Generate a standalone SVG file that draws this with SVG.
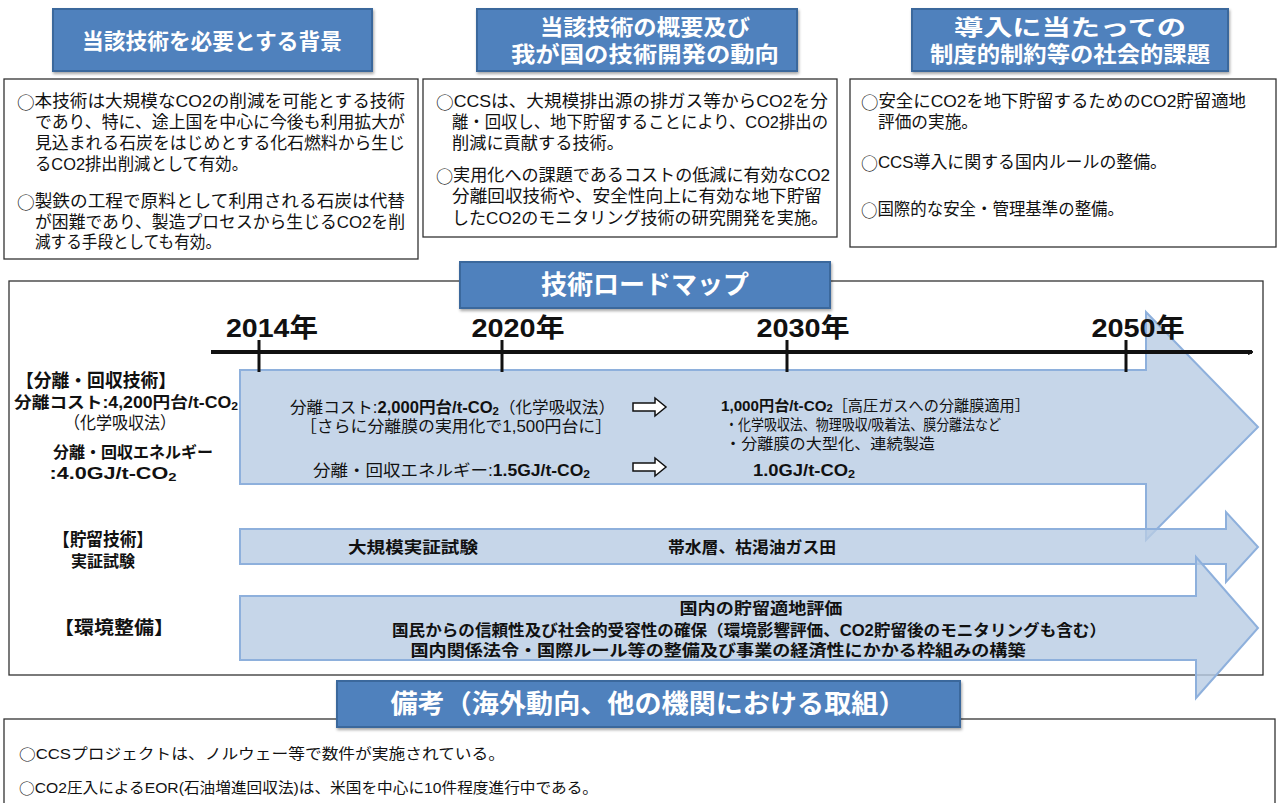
<svg xmlns="http://www.w3.org/2000/svg" width="1278" height="803" viewBox="0 0 1278 803">
<defs>
<style>
text{font-family:"Liberation Sans","Noto Sans CJK JP",sans-serif;fill:#111;dominant-baseline:central}
.c{font-family:"Noto Sans CJK JP",sans-serif}
.hdr{fill:#4f81bd;stroke:#3a679c;stroke-width:2}
.ht{fill:#fff;font-size:22px;font-weight:bold;text-anchor:middle}
.box{fill:#fff;stroke:#333;stroke-width:1.3}
.bt{font-size:17px}
.arr{fill:#b8cce4;fill-opacity:0.8;stroke:#8eb0dc;stroke-width:2}
.yr{font-size:26px;font-weight:bold;text-anchor:middle}
.lb{font-size:16px;font-weight:bold;text-anchor:middle}
.mt{font-size:16px}
.b{font-weight:bold}
.sub{font-size:11px}
.hol{fill:#fff;stroke:#111;stroke-width:1.5}
</style>
<filter id="sh" x="-5%" y="-10%" width="110%" height="130%">
<feDropShadow dx="1" dy="2" stdDeviation="1.5" flood-color="#000" flood-opacity="0.35"/>
</filter>
<marker id="tip" viewBox="0 0 10 10" refX="8" refY="5" markerWidth="5" markerHeight="5" orient="auto" markerUnits="userSpaceOnUse">
<path d="M0,0 L10,5 L0,10" fill="none" stroke="#111" stroke-width="2.5"/>
</marker>
</defs>
<rect width="1278" height="803" fill="#fff"/>

<g id="header-background">
<rect class="hdr" x="53" y="9" width="319" height="62" filter="url(#sh)"/>
<text class="ht" x="212" y="41" textLength="260" lengthAdjust="spacingAndGlyphs">当該技術を必要とする背景</text>
</g>
<g id="box-background">
<rect class="box" x="4" y="79" width="414" height="180"/>
<text class="bt" x="17" y="101" textLength="388" lengthAdjust="spacingAndGlyphs"><tspan class="c">○</tspan>本技術は大規模なCO2の削減を可能とする技術</text>
<text class="bt" x="35" y="122" textLength="370" lengthAdjust="spacingAndGlyphs">であり、特に、途上国を中心に今後も利用拡大が</text>
<text class="bt" x="35" y="143" textLength="370" lengthAdjust="spacingAndGlyphs">見込まれる石炭をはじめとする化石燃料から生じ</text>
<text class="bt" x="35" y="164" textLength="213" lengthAdjust="spacingAndGlyphs">るCO2排出削減として有効。</text>
<text class="bt" x="17" y="201" textLength="388" lengthAdjust="spacingAndGlyphs"><tspan class="c">○</tspan>製鉄の工程で原料として利用される石炭は代替</text>
<text class="bt" x="35" y="222" textLength="370" lengthAdjust="spacingAndGlyphs">が困難であり、製造プロセスから生じるCO2を削</text>
<text class="bt" x="35" y="242" textLength="186" lengthAdjust="spacingAndGlyphs">減する手段としても有効。</text>
</g>

<g id="header-overview">
<rect class="hdr" x="477" y="9" width="320" height="62" filter="url(#sh)"/>
<text class="ht" x="645" y="27" textLength="210" lengthAdjust="spacingAndGlyphs">当該技術の概要及び</text>
<text class="ht" x="645" y="54" textLength="268" lengthAdjust="spacingAndGlyphs">我が国の技術開発の動向</text>
</g>
<g id="box-overview">
<rect class="box" x="423" y="79" width="414" height="158"/>
<text class="bt" x="436" y="101" textLength="392" lengthAdjust="spacingAndGlyphs"><tspan class="c">○</tspan>CCSは、大規模排出源の排ガス等からCO2を分</text>
<text class="bt" x="452" y="122" textLength="376" lengthAdjust="spacingAndGlyphs">離・回収し、地下貯留することにより、CO2排出の</text>
<text class="bt" x="452" y="143" textLength="172" lengthAdjust="spacingAndGlyphs">削減に貢献する技術。</text>
<text class="bt" x="436" y="175" textLength="394" lengthAdjust="spacingAndGlyphs"><tspan class="c">○</tspan>実用化への課題であるコストの低減に有効なCO2</text>
<text class="bt" x="452" y="196" textLength="370" lengthAdjust="spacingAndGlyphs">分離回収技術や、安全性向上に有効な地下貯留</text>
<text class="bt" x="452" y="218" textLength="376" lengthAdjust="spacingAndGlyphs">したCO2のモニタリング技術の研究開発を実施。</text>
</g>

<g id="header-issues">
<rect class="hdr" x="912" y="9" width="316" height="62" filter="url(#sh)"/>
<text class="ht" x="1070" y="27" textLength="232" lengthAdjust="spacingAndGlyphs">導入に当たっての</text>
<text class="ht" x="1070" y="54" textLength="280" lengthAdjust="spacingAndGlyphs">制度的制約等の社会的課題</text>
</g>
<g id="box-issues">
<rect class="box" x="850" y="79" width="426" height="168"/>
<text class="bt" x="861" y="101" textLength="385" lengthAdjust="spacingAndGlyphs"><tspan class="c">○</tspan>安全にCO2を地下貯留するためのCO2貯留適地</text>
<text class="bt" x="878" y="122" textLength="100" lengthAdjust="spacingAndGlyphs">評価の実施。</text>
<text class="bt" x="861" y="162" textLength="306" lengthAdjust="spacingAndGlyphs"><tspan class="c">○</tspan>CCS導入に関する国内ルールの整備。</text>
<text class="bt" x="861" y="209" textLength="263" lengthAdjust="spacingAndGlyphs"><tspan class="c">○</tspan>国際的な安全・管理基準の整備。</text>
</g>

<g id="roadmap-frame">
<rect class="box" x="9" y="281" width="1254" height="394"/>
</g>

<g id="connectors">
<polygon class="arr" points="240,370 1146,370 1146,312 1258,427 1146,540 1146,484 240,484"/>
<polygon class="arr" points="240,529 1226,529 1226,512 1258,547 1226,582 1226,564 240,564"/>
<polygon class="arr" points="240,596 1196,596 1196,557 1258,628 1196,698 1196,660 240,660"/>
</g>

<g id="timeline">
<line x1="211" y1="352" x2="1252" y2="352" stroke="#111" stroke-width="4" marker-end="url(#tip)"/>
<line x1="259" y1="340" x2="259" y2="372" stroke="#111" stroke-width="3"/>
<line x1="502" y1="340" x2="502" y2="372" stroke="#111" stroke-width="3"/>
<line x1="787" y1="340" x2="787" y2="372" stroke="#111" stroke-width="3"/>
<line x1="1126" y1="340" x2="1126" y2="372" stroke="#111" stroke-width="3"/>
<text class="yr" x="272" y="328" textLength="92" lengthAdjust="spacingAndGlyphs">2014年</text>
<text class="yr" x="518" y="328" textLength="93" lengthAdjust="spacingAndGlyphs">2020年</text>
<text class="yr" x="803" y="328" textLength="93" lengthAdjust="spacingAndGlyphs">2030年</text>
<text class="yr" x="1138" y="328" textLength="93" lengthAdjust="spacingAndGlyphs">2050年</text>
</g>

<g id="roadmap-title">
<rect class="hdr" x="460" y="262" width="370" height="46" filter="url(#sh)"/>
<text class="ht" x="645" y="285" style="font-size:26px" textLength="208" lengthAdjust="spacingAndGlyphs">技術ロードマップ</text>
</g>

<g id="row-capture-label">
<text class="lb" x="96" y="381" style="font-size:18px" textLength="160" lengthAdjust="spacingAndGlyphs">【分離・回収技術】</text>
<text class="lb" x="126" y="402" textLength="224" lengthAdjust="spacingAndGlyphs">分離コスト:4,200円台/t-CO<tspan class="sub" dy="4">2</tspan></text>
<text class="mt" x="120" y="423" style="font-size:17px" text-anchor="middle" textLength="112" lengthAdjust="spacingAndGlyphs">（化学吸収法）</text>
<text class="lb" x="133" y="452" textLength="160" lengthAdjust="spacingAndGlyphs">分離・回収エネルギー</text>
<text class="lb" x="113" y="473" textLength="127" lengthAdjust="spacingAndGlyphs">:4.0GJ/t-CO<tspan class="sub" dy="4">2</tspan></text>
</g>

<g id="row-capture-content">
<text class="mt" x="290" y="407" textLength="325" lengthAdjust="spacingAndGlyphs">分離コスト:<tspan class="b">2,000円台/t-CO</tspan><tspan class="sub b" dy="4">2</tspan><tspan dy="-4">（化学吸収法）</tspan></text>
<text class="mt" x="300" y="426" textLength="312" lengthAdjust="spacingAndGlyphs">［さらに分離膜の実用化で1,500円台に］</text>
<text class="mt" x="313" y="470" textLength="277" lengthAdjust="spacingAndGlyphs">分離・回収エネルギー:<tspan class="b">1.5GJ/t-CO</tspan><tspan class="sub b" dy="4">2</tspan></text>
<path class="hol" d="M633,403 H655 V398 L666,407 L655,416 V411 H633 Z"/>
<path class="hol" d="M633,463 H655 V458 L666,467 L655,476 V471 H633 Z"/>
<text class="mt" x="721" y="405" style="font-size:15px" textLength="309" lengthAdjust="spacingAndGlyphs"><tspan class="b">1,000円台/t-CO</tspan><tspan class="sub b" dy="3">2</tspan><tspan dy="-3">［高圧ガスへの分離膜適用］</tspan></text>
<text class="mt" x="725" y="424" style="font-size:15px" textLength="276" lengthAdjust="spacingAndGlyphs">・化学吸収法、物理吸収/吸着法、膜分離法など</text>
<text class="mt" x="725" y="443" style="font-size:15px" textLength="210" lengthAdjust="spacingAndGlyphs">・分離膜の大型化、連続製造</text>
<text class="mt b" x="753" y="470" textLength="102" lengthAdjust="spacingAndGlyphs">1.0GJ/t-CO<tspan class="sub" dy="4">2</tspan></text>
</g>

<g id="row-storage">
<text class="lb" x="103" y="540" style="font-size:18px" textLength="100" lengthAdjust="spacingAndGlyphs">【貯留技術】</text>
<text class="lb" x="103" y="561" textLength="64" lengthAdjust="spacingAndGlyphs">実証試験</text>
<text class="mt b" x="348" y="547" textLength="130" lengthAdjust="spacingAndGlyphs">大規模実証試験</text>
<text class="mt b" x="668" y="547" textLength="168" lengthAdjust="spacingAndGlyphs">帯水層、枯渇油ガス田</text>
</g>

<g id="row-environment">
<text class="lb" x="114" y="628" style="font-size:18px" textLength="120" lengthAdjust="spacingAndGlyphs">【環境整備】</text>
<text class="mt b" x="761" y="608" text-anchor="middle" textLength="163" lengthAdjust="spacingAndGlyphs">国内の貯留適地評価</text>
<text class="mt b" x="749" y="630" text-anchor="middle" textLength="714" lengthAdjust="spacingAndGlyphs">国民からの信頼性及び社会的受容性の確保（環境影響評価、CO2貯留後のモニタリングも含む）</text>
<text class="mt b" x="718" y="650" text-anchor="middle" textLength="615" lengthAdjust="spacingAndGlyphs">国内関係法令・国際ルール等の整備及び事業の経済性にかかる枠組みの構築</text>
</g>

<g id="box-remarks">
<rect class="box" x="4" y="719" width="1271" height="90"/>
<text class="mt" x="19" y="753" style="font-size:15px" textLength="486" lengthAdjust="spacingAndGlyphs"><tspan class="c">○</tspan>CCSプロジェクトは、ノルウェー等で数件が実施されている。</text>
<text class="mt" x="19" y="787" style="font-size:15px" textLength="579" lengthAdjust="spacingAndGlyphs"><tspan class="c">○</tspan>CO2圧入によるEOR(石油増進回収法)は、米国を中心に10件程度進行中である。</text>
</g>
<g id="header-remarks">
<rect class="hdr" x="337" y="681" width="623" height="46" filter="url(#sh)"/>
<text class="ht" x="648" y="704" style="font-size:26px" textLength="515" lengthAdjust="spacingAndGlyphs">備考（海外動向、他の機関における取組）</text>
</g>
</svg>
